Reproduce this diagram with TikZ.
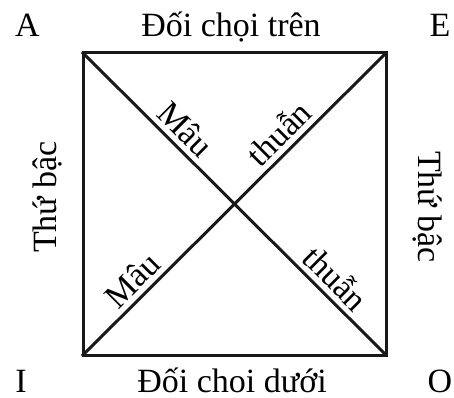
\documentclass[tikz,border=0pt]{standalone}
\usepackage{fontspec}
\setmainfont{Liberation Serif}
\begin{document}
\begin{tikzpicture}[x=1pt,y=1pt,
  edge/.style={line width=3pt,draw=black!90,line cap=rect},
  lbl/.style={font=\fontsize{34}{34}\selectfont,inner sep=0pt},
  diag/.style={font=\fontsize{34}{34}\selectfont,sloped,above=4pt,inner sep=1pt}]
\useasboundingbox (0,0) rectangle (454,397);
\coordinate (cA) at (83,344);
\coordinate (cE) at (386,344);
\coordinate (cI) at (83,42);
\coordinate (cO) at (386,42);
\coordinate (cC) at (234.5,193);
\draw[edge] (cA) -- (cE) -- (cO) -- (cI) -- cycle;
\draw[edge] (cA) -- (cC) node[diag,pos=0.59] (m1) {Mâu};
\draw[edge] (cC) -- (cE) node[diag,pos=0.38] (t1) {thuẫn};
\draw[edge] (cI) -- (cC) node[diag,pos=0.41] (m2) {Mâu};
\draw[edge] (cC) -- (cO) node[diag,pos=0.58] (t2) {thuẫn};
\node[lbl,anchor=base] (A) at (27.5,360) {A};
\node[lbl,anchor=base] (top) at (231,360) {Đối chọi trên};
\node[lbl,anchor=base] (E) at (440,360) {E};
\node[lbl,anchor=base] (I) at (21,5) {I};
\node[lbl,anchor=base] (bot) at (232,5) {Đối choi dưới};
\node[lbl,anchor=base] (O) at (440,5) {O};
\node[lbl,anchor=base,rotate=90] (left) at (56,200) {Thứ bậc};
\node[lbl,anchor=base,rotate=-90] (right) at (418,190) {Thứ bậc};
\end{tikzpicture}
\end{document}
